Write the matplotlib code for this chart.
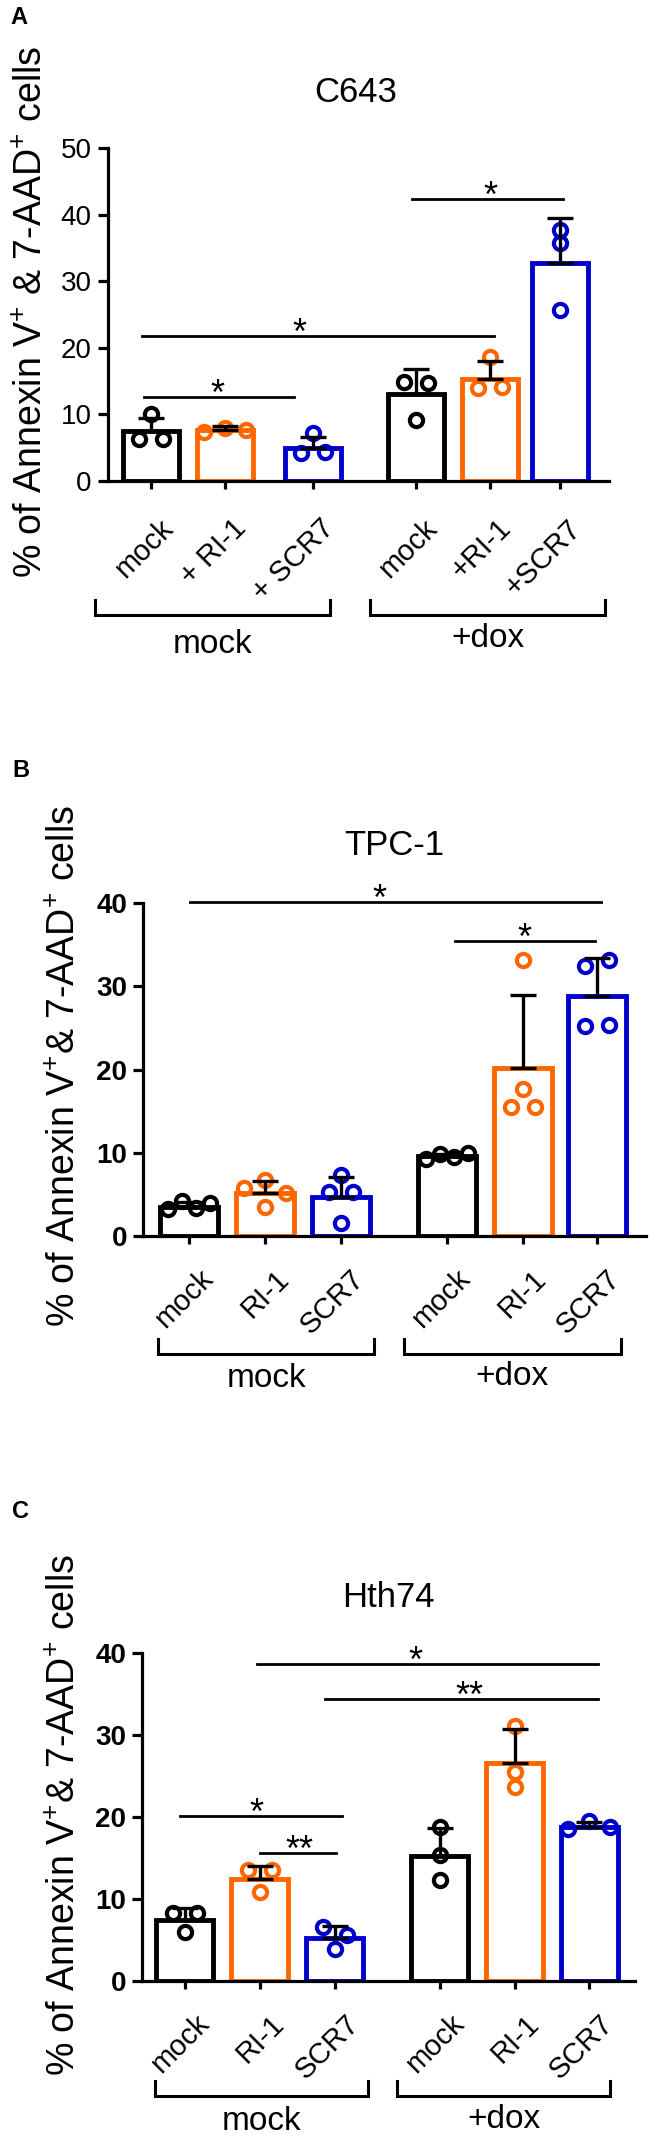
import matplotlib
matplotlib.use("Agg")
import matplotlib.pyplot as plt
from matplotlib.transforms import ScaledTranslation
import numpy as np

plt.rcParams['font.family'] = ['Liberation Sans', 'DejaVu Sans']
plt.rcParams['mathtext.fontset'] = 'custom'
plt.rcParams['mathtext.rm'] = 'Liberation Sans'
plt.rcParams['mathtext.it'] = 'Liberation Sans:italic'
plt.rcParams['mathtext.bf'] = 'Liberation Sans:bold'

# ---- data ----
colors = ['black', '#FF6600', '#0000CC', 'black', '#FF6600', '#0000CC']

labels_A = ['mock', '+ RI-1', '+ SCR7', 'mock', '+RI-1', '+SCR7']
means_A = [7.5, 7.7, 5.0, 13.1, 15.3, 32.8]
sd_A = [2.0, 0.6, 1.6, 3.7, 2.7, 6.7]
points_A = [[10.0, 6.3, 6.3], [7.4, 8.0, 7.6], [7.2, 4.2, 4.4],
            [14.9, 14.7, 9.2], [18.6, 14.0, 14.1], [37.7, 35.8, 25.7]]

labels_B = ['mock', 'RI-1', 'SCR7', 'mock', 'RI-1', 'SCR7']
means_B = [3.5, 5.2, 4.7, 9.6, 20.2, 28.8]
sd_B = [0.6, 1.4, 2.4, 0.3, 8.7, 4.6]
points_B = [[3.2, 4.2, 3.4, 4.0], [5.8, 6.7, 5.2, 3.5], [7.3, 5.3, 5.3, 1.6],
            [9.3, 9.8, 9.5, 10.0], [33.1, 17.6, 15.5, 15.5], [32.4, 33.2, 25.2, 25.4]]

labels_C = ['mock', 'RI-1', 'SCR7', 'mock', 'RI-1', 'SCR7']
means_C = [7.5, 12.4, 5.3, 15.3, 26.6, 18.8]
sd_C = [1.4, 1.6, 1.4, 3.4, 4.1, 0.6]
points_C = [[8.3, 8.3, 6.0], [13.5, 13.5, 10.9], [6.6, 5.6, 3.9],
            [18.8, 15.4, 12.3], [31.1, 25.5, 23.7], [18.5, 19.5, 18.8]]

groups = ['mock', '+dox']

# significance bars: (x start, x end, y, text, text x)
sig_A = [(3.53, 5.57, 42.3, '*', 4.58), (-0.12, 4.64, 21.8, '*', 2.01), (-0.09, 1.93, 12.6, '*', 0.89)]
sig_B = [(0.01, 5.42, 40.1, '*', 2.5), (3.49, 5.34, 35.4, '*', 4.41)]
sig_C = [(0.96, 5.51, 38.7, '*', 3.08), (1.87, 5.51, 34.4, '**', 3.79),
         (-0.07, 2.09, 20.1, '*', 0.95), (1.0, 2.01, 15.6, '**', 1.53)]

ylabel_A = r'% of Annexin V$^{+}$ & 7-AAD$^{+}$ cells'
ylabel_BC = r'% of Annexin V$^{+}$& 7-AAD$^{+}$ cells'

W, H = 650, 2136
fig = plt.figure(figsize=(W / 100, H / 100), dpi=100)


def px_axes(l, r, t, b):
    return fig.add_axes([l / W, 1 - b / H, (r - l) / W, (b - t) / H])


def shift(dx, dy):
    # pixels, dy positive downward
    return ScaledTranslation(dx / 100, -dy / 100, fig.dpi_scale_trans)


def spread(ax, xc, vals, gap=10):
    # points lying at about the same height are set side by side
    tr = ax.transData
    ppx = tr.transform((xc + 1, 0))[0] - tr.transform((xc, 0))[0]
    ys = np.array([tr.transform((xc, v))[1] for v in vals])
    order = np.argsort(ys)
    clusters, cur = [], [order[0]]
    for a, b in zip(order[:-1], order[1:]):
        if ys[b] - ys[a] < gap:
            cur.append(b)
        else:
            clusters.append(cur)
            cur = [b]
    clusters.append(cur)
    offs = np.zeros(len(vals))
    for cl in clusters:
        k = len(cl)
        if k > 1:
            s = min(24, 42 / (k - 1))
            for n, i in enumerate(sorted(cl)):
                offs[i] = (n - (k - 1) / 2) * s
    return xc + offs / ppx


def panel(box, pos, xlim, ymax, labels, means, sds, points, sig, bold,
          brackets, br_dy, lab_dy, lab_off):
    l, r, t, b = box
    ax = px_axes(l, r, t, b)
    hpx = b - t
    ax.set_xlim(*xlim)
    ax.set_ylim(0, ymax)
    ax.bar(pos, means, width=0.76, facecolor='white', edgecolor=colors,
           linewidth=3.5, zorder=2)
    for i in range(6):
        xs = spread(ax, pos[i], points[i])
        ax.plot(xs, points[i], 'o', ms=9.5, mfc='none', mec=colors[i], mew=3.0,
                zorder=3, clip_on=False)
        ax.errorbar([pos[i]], [means[i]], yerr=[[0], [sds[i]]], fmt='none',
                    ecolor='black', elinewidth=2.4, capsize=9.5, capthick=2.4,
                    zorder=4)
    for sp in ['top', 'right']:
        ax.spines[sp].set_visible(False)
    for sp in ['left', 'bottom']:
        ax.spines[sp].set_linewidth(2.3)
    ax.set_yticks(range(0, ymax + 1, 10))
    ax.tick_params(axis='y', width=2.3, length=7, pad=4.5, labelsize=20)
    ax.tick_params(axis='x', width=2.3, length=6)
    for lb in ax.get_yticklabels():
        lb.set_fontweight('bold' if bold else 'normal')
    ax.set_xticks(pos)
    ax.set_xticklabels(labels, rotation=45, ha='right', va='center',
                       rotation_mode='anchor', fontsize=21)
    for lb in ax.get_xticklabels():
        lb.set_transform(lb.get_transform() + shift(*lab_off))

    for x0, x1, y, txt, xt in sig:
        ax.plot([x0, x1], [y, y], color='black', lw=2.0, clip_on=False)
        ax.text(xt, y, txt, ha='center', va='baseline', fontsize=26,
                transform=ax.transData + shift(0, 8))

    tx = ax.get_xaxis_transform()
    for (x0, x1), g, ldy in zip(brackets, groups, lab_dy):
        ax.plot([x0, x0, x1, x1],
                [-(br_dy - 15) / hpx, -br_dy / hpx, -br_dy / hpx, -(br_dy - 15) / hpx],
                color='black', lw=2.2, transform=tx, clip_on=False,
                solid_joinstyle='miter')
        ax.text((x0 + x1) / 2, -ldy / hpx, g, ha='center', va='baseline',
                fontsize=24, transform=tx)
    return ax


# panel A
panel((107.5, 609, 148, 481), [0, 1, 2.19, 3.58, 4.58, 5.53], (-0.59, 6.19), 50,
      labels_A, means_A, sd_A, points_A, sig_A, False,
      [(-0.76, 2.42), (2.96, 6.14)], 134, [172, 166], (17, 30))
# panel B
panel((143, 646, 903, 1236), [0, 1, 2, 3.39, 4.39, 5.37], (-0.61, 6.01), 40,
      labels_B, means_B, sd_B, points_B, sig_B, True,
      [(-0.41, 2.43), (2.82, 5.68)], 118, [151, 149], (19, 25))
# panel C
panel((142, 635, 1653, 1981), [0, 1, 2, 3.4, 4.4, 5.39], (-0.57, 6.0), 40,
      labels_C, means_C, sd_C, points_C, sig_C, True,
      [(-0.4, 2.44), (2.83, 5.67)], 115, [149, 147], (20, 25))


def ftext(x, y, s, **kw):
    fig.text(x / W, 1 - y / H, s, **kw)


ftext(356, 102, 'C643', ha='center', va='baseline', fontsize=25)
ftext(394, 855, 'TPC-1', ha='center', va='baseline', fontsize=25)
ftext(388, 1607, 'Hth74', ha='center', va='baseline', fontsize=25)

ftext(10, 24, 'A', ha='left', va='baseline', fontsize=17, fontweight='bold')
ftext(12, 777, 'B', ha='left', va='baseline', fontsize=17, fontweight='bold')
ftext(12, 1518, 'C', ha='left', va='baseline', fontsize=17, fontweight='bold')

for x, y, s in [(42, 312, ylabel_A), (75, 1066, ylabel_BC), (75, 1815, ylabel_BC)]:
    ftext(x, y, s, rotation=90, rotation_mode='anchor', ha='center',
          va='baseline', fontsize=27)

fig.savefig('out.png', dpi=100)
